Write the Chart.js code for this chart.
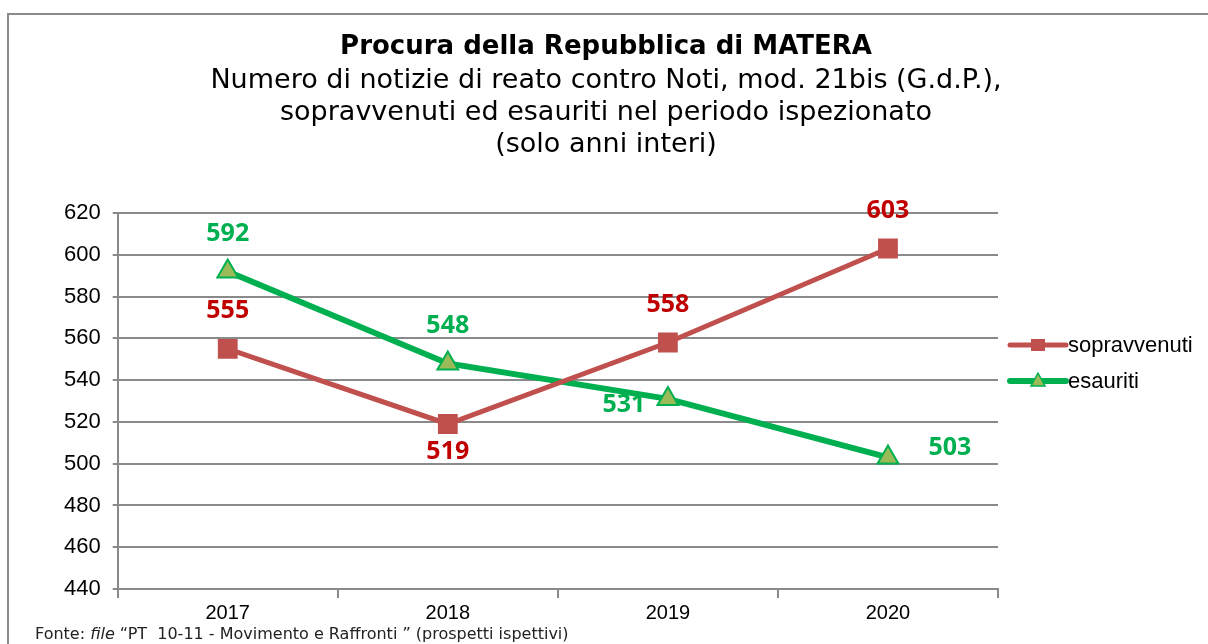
<!DOCTYPE html>
<html>
<head>
<meta charset="utf-8">
<script src="https://cdn.jsdelivr.net/npm/chart.js@4"></script>
<style>
  html, body { margin: 0; padding: 0; background: #fff; }
  #wrap { position: relative; width: 1208px; height: 644px; overflow: hidden; }
  #frame { position: absolute; left: 7px; top: 13px; width: 1300px; height: 700px;
           border-left: 2px solid #8a8a8a; border-top: 2px solid #8a8a8a; }
  #chart { position: absolute; left: 0; top: 0; }
  #fonte { position: absolute; left: 35px; top: 624px; font: 16px "DejaVu Sans", sans-serif;
           color: #222; white-space: pre; }
</style>
</head>
<body>
<div id="wrap">
  <div id="frame"></div>
  <canvas id="chart" width="1208" height="644"></canvas>
  <div id="fonte">Fonte: <i>file</i> “PT  10-11 - Movimento e Raffronti ” (prospetti ispettivi)</div>
</div>
<script>
// dati
const anni = ["2017", "2018", "2019", "2020"];
const sopravvenuti = [555, 519, 558, 603];
const esauriti = [592, 548, 531, 503];
const yMin = 440, yMax = 620, yStep = 20;

const titolo = "Procura della Repubblica di MATERA";
const sottotitolo = [
  "Numero di notizie di reato contro Noti, mod. 21bis (G.d.P.),",
  "sopravvenuti ed esauriti nel periodo ispezionato",
  "(solo anni interi)"
];

const ROSSO = "#C0504D";
const VERDE = "#00B050";

// dove mettere le etichette dei valori
const posSopr = ["top", "bottom", "top", "top"];
const posEsau = ["top", "top", "left", "right"];

const offsets = {
  top: [0, -38],
  bottom: [0, 28],
  left: [-44, 6],
  right: [62, -10]
};

// titolo in alto
const titlePlugin = {
  id: "titoli",
  afterDraw(chart) {
    const ctx = chart.ctx;
    const cx = 606;
    ctx.save();
    ctx.fillStyle = "#000";
    ctx.textAlign = "center";
    ctx.textBaseline = "middle";
    ctx.font = "bold 26px 'DejaVu Sans'";
    ctx.fillText(titolo, cx, 47);
    ctx.font = "27px 'DejaVu Sans'";
    sottotitolo.forEach((riga, i) => {
      ctx.fillText(riga, cx, 81 + i * 32);
    });
    ctx.restore();
  }
};

// etichette dei valori
const labelPlugin = {
  id: "etichette",
  afterDatasetsDraw(chart) {
    const ctx = chart.ctx;
    ctx.save();
    ctx.textAlign = "center";
    ctx.textBaseline = "middle";
    ctx.font = "bold 25px 'Open Sans'";
    chart.data.datasets.forEach((ds, di) => {
      const meta = chart.getDatasetMeta(di);
      meta.data.forEach((pt, i) => {
        const off = offsets[ds.labelPos[i]];
        ctx.fillStyle = ds.labelColor;
        ctx.fillText(ds.data[i], pt.x + off[0], pt.y + off[1]);
      });
    });
    ctx.restore();
  }
};

// legenda a destra
const legendPlugin = {
  id: "legenda",
  afterDraw(chart) {
    const ctx = chart.ctx;
    const x0 = 1010, x1 = 1066, mx = 1038;
    const righe = [345, 381];
    ctx.save();
    chart.data.datasets.forEach((ds, i) => {
      const y = righe[i];
      ctx.strokeStyle = ds.borderColor;
      ctx.lineWidth = ds.borderWidth;
      ctx.lineCap = "round";
      ctx.beginPath();
      ctx.moveTo(x0, y);
      ctx.lineTo(x1, y);
      ctx.stroke();
      if (ds.pointStyle === "rect") {
        ctx.fillStyle = ds.pointBackgroundColor;
        ctx.fillRect(mx - 7, y - 6, 14, 12);
      } else {
        ctx.fillStyle = ds.pointBackgroundColor;
        ctx.strokeStyle = ds.pointBorderColor;
        ctx.lineWidth = 1.5;
        ctx.beginPath();
        ctx.moveTo(mx, y - 8);
        ctx.lineTo(mx + 7, y + 5);
        ctx.lineTo(mx - 7, y + 5);
        ctx.closePath();
        ctx.fill();
        ctx.stroke();
      }
      ctx.fillStyle = "#000";
      ctx.font = "22px 'Liberation Sans'";
      ctx.textAlign = "left";
      ctx.textBaseline = "middle";
      ctx.fillText(ds.label, 1068, y + 1);
    });
    ctx.restore();
  }
};

const chart = new Chart(document.getElementById("chart"), {
  type: "line",
  data: {
    labels: anni,
    datasets: [
      {
        label: "sopravvenuti",
        data: sopravvenuti,
        borderColor: ROSSO,
        borderWidth: 5,
        pointStyle: "rect",
        pointRadius: 14,
        pointHoverRadius: 14,
        pointBackgroundColor: ROSSO,
        pointBorderColor: ROSSO,
        pointBorderWidth: 0,
        labelColor: "#C00000",
        labelPos: posSopr
      },
      {
        label: "esauriti",
        data: esauriti,
        borderColor: VERDE,
        borderWidth: 6,
        pointStyle: "triangle",
        pointRadius: 12,
        pointHoverRadius: 12,
        pointBackgroundColor: "#9BBB59",
        pointBorderColor: VERDE,
        pointBorderWidth: 2,
        labelColor: VERDE,
        labelPos: posEsau
      }
    ]
  },
  options: {
    responsive: false,
    animation: false,
    devicePixelRatio: 1,
    layout: {
      padding: { left: 52, right: 210, top: 213, bottom: 16 }
    },
    plugins: {
      legend: { display: false },
      title: { display: false },
      tooltip: { enabled: false }
    },
    scales: {
      x: {
        offset: true,
        grid: {
          offset: true,
          drawOnChartArea: false,
          drawTicks: true,
          tickLength: 9,
          color: "#8a8a8a",
          lineWidth: 2
        },
        border: { color: "#8a8a8a", width: 2 },
        ticks: {
          color: "#000",
          padding: 3,
          font: { family: "Liberation Sans", size: 20 }
        }
      },
      y: {
        min: yMin,
        max: yMax,
        ticks: {
          stepSize: yStep,
          color: "#000",
          padding: 12,
          font: { family: "Liberation Sans", size: 22 }
        },
        grid: {
          color: "#8a8a8a",
          lineWidth: 2,
          tickLength: 5
        },
        border: { color: "#8a8a8a", width: 2 }
      }
    }
  },
  plugins: [titlePlugin, labelPlugin, legendPlugin]
});
</script>
</body>
</html>
